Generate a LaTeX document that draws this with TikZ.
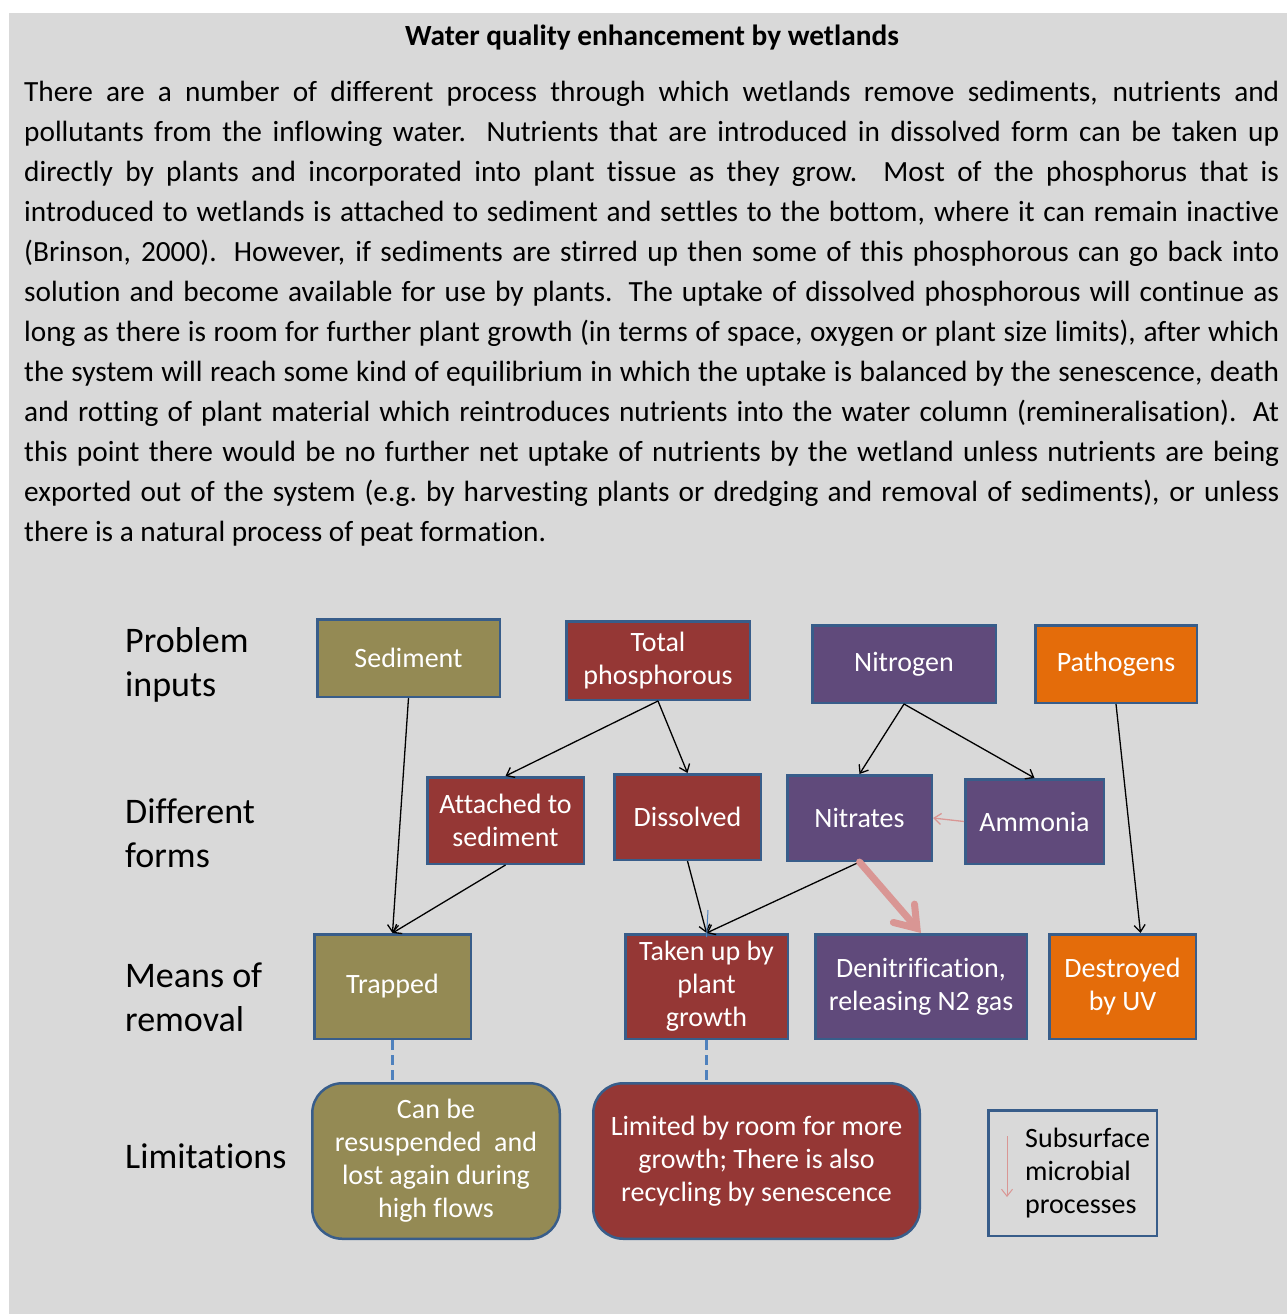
\documentclass[tikz,border=0pt]{standalone}
\usepackage{fontspec}
\setmainfont{Carlito}[Ligatures=NoCommon]
\usepackage{tikz}
\usetikzlibrary{arrows.meta,positioning}
\definecolor{pagegrey}{RGB}{217,217,217}
\definecolor{boxline}{RGB}{56,93,138}
\definecolor{sedOlive}{RGB}{148,138,84}
\definecolor{phosRed}{RGB}{149,55,53}
\definecolor{nitroPurple}{RGB}{96,74,123}
\definecolor{pathOrange}{RGB}{228,108,10}
\definecolor{microPink}{RGB}{217,150,148}
\definecolor{linkBlue}{RGB}{79,129,189}
\newcommand{\nodefont}{\fontsize{28}{33}\selectfont}
\newcommand{\rowfont}{\fontsize{36}{44}\selectfont}
\newcommand{\bodyfont}{\fontsize{29.3}{40}\selectfont}
\tikzset{
  flowbox/.style={rectangle, draw=boxline, line width=2.5pt, fill=#1,
                  text=white, align=center, inner sep=0pt, font=\nodefont},
  limitbox/.style={flowbox=#1, rounded corners=30pt},
  rowlabel/.style={anchor=west, align=left, inner sep=0pt, font=\rowfont},
  flowarrow/.style={-{Straight Barb[length=7pt,width=11pt]}, line width=1.3pt, black},
  microarrow/.style={-{Straight Barb[length=7pt,width=11pt]}, line width=1.3pt, microPink},
  bigarrow/.style={-{Straight Barb[length=20pt,width=28pt,line cap=round]},
                   line width=7pt, line cap=round, microPink},
  limitlink/.style={dash pattern=on 10pt off 5pt, line width=3pt, linkBlue},
}
\begin{document}
\begin{tikzpicture}[x=1pt,y=-1pt]
  \useasboundingbox (0,0) rectangle (1287,1314);
  \fill[pagegrey] (9,13) rectangle (1287,1314);

  % Heading and text
  \node[anchor=base, font=\bodyfont\bfseries] (title) at (652,46) {Water quality enhancement by wetlands};
  \node[anchor=base west, inner sep=0pt, text width=1255pt, align=justify, font=\bodyfont] (bodytext) at (24,101.7)
    {\tolerance=10000 There are a number of different process through which wetlands remove sediments, nutrients and\linebreak
     pollutants from the inflowing water.  Nutrients that are introduced in dissolved form can be taken up\linebreak
     directly by plants and incorporated into plant tissue as they grow.  Most of the phosphorus that is\linebreak
     introduced to wetlands is attached to sediment and settles to the bottom, where it can remain inactive\linebreak
     (Brinson, 2000).  However, if sediments are stirred up then some of this phosphorous can go back into\linebreak
     solution and become available for use by plants.  The uptake of dissolved phosphorous will continue as\linebreak
     long as there is room for further plant growth (in terms of space, oxygen or plant size limits), after which\linebreak
     the system will reach some kind of equilibrium in which the uptake is balanced by the senescence, death\linebreak
     and rotting of plant material which reintroduces nutrients into the water column (remineralisation).  At\linebreak
     this point there would be no further net uptake of nutrients by the wetland unless nutrients are being\linebreak
     exported out of the system (e.g.\ by harvesting plants or dredging and removal of sediments), or unless\linebreak
     there is a natural process of peat formation.};

  % Row labels
  \node[rowlabel] (rowInputs) at (125,665) {Problem\\inputs};
  \node[rowlabel] (rowForms) at (125,833) {Different\\forms};
  \node[rowlabel] (rowRemoval) at (125,997) {Means of\\removal};
  \node[rowlabel] (rowLimits) at (125,1156) {Limitations};

  % Problem inputs
  \node[flowbox=sedOlive, minimum width=182.5pt, minimum height=77.5pt] (sediment) at (408.5,658) {Sediment};
  \node[flowbox=phosRed, minimum width=183.5pt, minimum height=78.5pt] (totalP) at (658,660.5) {Total\\phosphorous};
  \node[flowbox=nitroPurple, minimum width=183.5pt, minimum height=77.5pt] (nitrogen) at (904,664) {Nitrogen};
  \node[flowbox=pathOrange, minimum width=161.5pt, minimum height=77.5pt] (pathogens) at (1116,664) {Pathogens};

  % Different forms
  \node[flowbox=phosRed, minimum width=156.5pt, minimum height=86.5pt] (attached) at (505.5,820.5) {Attached to\\sediment};
  \node[flowbox=phosRed, minimum width=146.5pt, minimum height=85.5pt] (dissolved) at (687.5,817) {Dissolved};
  \node[flowbox=nitroPurple, minimum width=144.5pt, minimum height=85.5pt] (nitrates) at (859.5,818) {Nitrates};
  \node[flowbox=nitroPurple, minimum width=138.5pt, minimum height=84.5pt] (ammonia) at (1034.5,821.5) {Ammonia};

  % Means of removal
  \node[flowbox=sedOlive, minimum width=156.5pt, minimum height=104.5pt] (trapped) at (392.5,986.5) {Trapped};
  \node[flowbox=phosRed, minimum width=162.5pt, minimum height=104.5pt] (takenup) at (706.5,986.5) {Taken up by\\plant\\growth};
  \node[flowbox=nitroPurple, minimum width=211.5pt, minimum height=104.5pt] (denitr) at (921,986.5) {Denitrification,\\releasing N2 gas};
  \node[flowbox=pathOrange, minimum width=146.5pt, minimum height=104.5pt] (destroyed) at (1122.5,986.5) {Destroyed\\by UV};

  % Limitations
  \node[limitbox=sedOlive, minimum width=247.5pt, minimum height=155.5pt] (canbe) at (436,1161) {Can be\\resuspended~ and\\lost again during\\high flows};
  \node[limitbox=phosRed, minimum width=326.5pt, minimum height=155.5pt] (limited) at (756.5,1161) {Limited by room for more\\growth; There is also\\recycling by senescence};

  % legend
  \node[rectangle, draw=boxline, line width=2.5pt, minimum width=168.5pt, minimum height=125.5pt] (legend) at (1072.5,1173) {};
  \node[anchor=west, align=left, inner sep=0pt, font=\nodefont] (legendtext) at (1025,1173) {Subsurface\\microbial\\processes};
  \coordinate (legtop) at (1007,1136);
  \coordinate (legbot) at (1007,1197);
  \draw[microarrow, line width=1pt] (legtop) -- (legbot);

  % arrows
  \draw[flowarrow] (sediment.south) -- (trapped.north);
  \draw[flowarrow] (totalP.south) -- (attached.north);
  \draw[flowarrow] (totalP.south) -- (dissolved.north);
  \draw[flowarrow] (nitrogen.south) -- (nitrates.north);
  \draw[flowarrow] (nitrogen.south) -- (ammonia.north);
  \draw[flowarrow] (pathogens.south) -- ([xshift=18pt]destroyed.north);
  \draw[flowarrow] (attached.south) -- (trapped.north);
  \draw[flowarrow] (dissolved.south) -- (takenup.north);
  \draw[flowarrow] (nitrates.south) -- (takenup.north);
  \draw[microarrow] (ammonia.west) -- (nitrates.east);
  \draw[bigarrow] (nitrates.south) -- (denitr.north);
  \coordinate (tick) at (708,910);
  \draw[linkBlue, line width=1pt] (tick) -- ([yshift=-4pt]takenup.north);

  % dashed links to limitations
  \draw[limitlink] (trapped.south) -- (trapped.south |- canbe.north);
  \draw[limitlink] (takenup.south) -- (takenup.south |- limited.north);
\end{tikzpicture}
\end{document}
